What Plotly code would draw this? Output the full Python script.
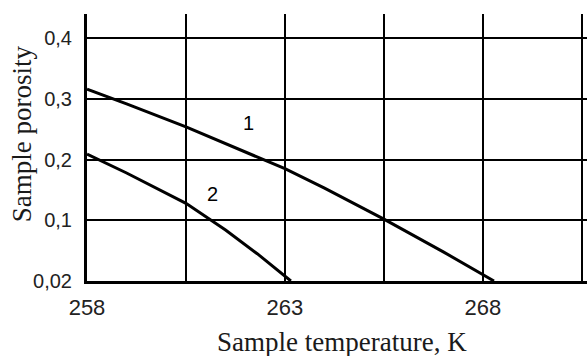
import plotly.graph_objects as go

# Data
t1 = [258.0, 259.0, 260.5, 262.0, 263.0, 264.0, 265.5, 267.0, 268.0, 268.28]
p1 = [0.316, 0.292, 0.254, 0.212, 0.185, 0.153, 0.102, 0.048, 0.010, 0.0]
t2 = [258.0, 259.0, 260.5, 261.5, 262.3, 263.0, 263.15]
p2 = [0.209, 0.178, 0.128, 0.084, 0.045, 0.007, 0.0]

x_tickvals = [258, 263, 268]
x_ticktext = ["258", "263", "268"]
x_minor = [260.5, 265.5, 270.5]
y_tickvals = [0.0, 0.1, 0.2, 0.3, 0.4]
y_ticktext = ["0,02", "0,1", "0,2", "0,3", "0,4"]

curve_labels = [("1", 262.07, 0.26), ("2", 261.16, 0.143)]

fig = go.Figure()
fig.add_trace(go.Scatter(x=t1, y=p1, mode="lines", line=dict(color="black", width=3), showlegend=False))
fig.add_trace(go.Scatter(x=t2, y=p2, mode="lines", line=dict(color="black", width=3), showlegend=False))

for txt, xv, yv in curve_labels:
    fig.add_annotation(x=xv, y=yv, text=txt, showarrow=False,
                       font=dict(family="Liberation Sans, Arial", size=20, color="black"))

fig.add_annotation(xref="paper", yref="paper", x=0.51, y=-0.228, xanchor="center", yanchor="middle",
                   text="Sample temperature, K", showarrow=False,
                   font=dict(family="Liberation Serif, Times New Roman", size=27, color="#1a1a1a"))
fig.add_annotation(xref="paper", yref="paper", x=-0.13, y=0.55, xanchor="center", yanchor="middle",
                   text="Sample porosity", textangle=-90, showarrow=False,
                   font=dict(family="Liberation Serif, Times New Roman", size=27, color="#1a1a1a"))

fig.update_layout(
    width=587, height=356,
    margin=dict(l=87, r=0, t=14, b=75),
    paper_bgcolor="white", plot_bgcolor="white",
    xaxis=dict(range=[258, 270.63], tickvals=x_tickvals, ticktext=x_ticktext,
               showgrid=True, gridcolor="black", gridwidth=2,
               minor=dict(tickvals=x_minor, showgrid=True, gridcolor="black", gridwidth=2),
               showline=True, linecolor="black", linewidth=3, ticks="", zeroline=False,
               ticklabelstandoff=5,
               tickfont=dict(family="Liberation Sans, Arial", size=22, color="#222")),
    yaxis=dict(range=[0, 0.44], tickvals=y_tickvals, ticktext=y_ticktext,
               showgrid=True, gridcolor="black", gridwidth=2,
               showline=True, linecolor="black", linewidth=3, ticks="", zeroline=False,
               ticklabelstandoff=8,
               tickfont=dict(family="Liberation Sans, Arial", size=20, color="#222")),
)

fig.write_html("out.html", config={"displayModeBar": False},
               post_script="document.body.style.margin='0';document.body.style.overflow='hidden';")
